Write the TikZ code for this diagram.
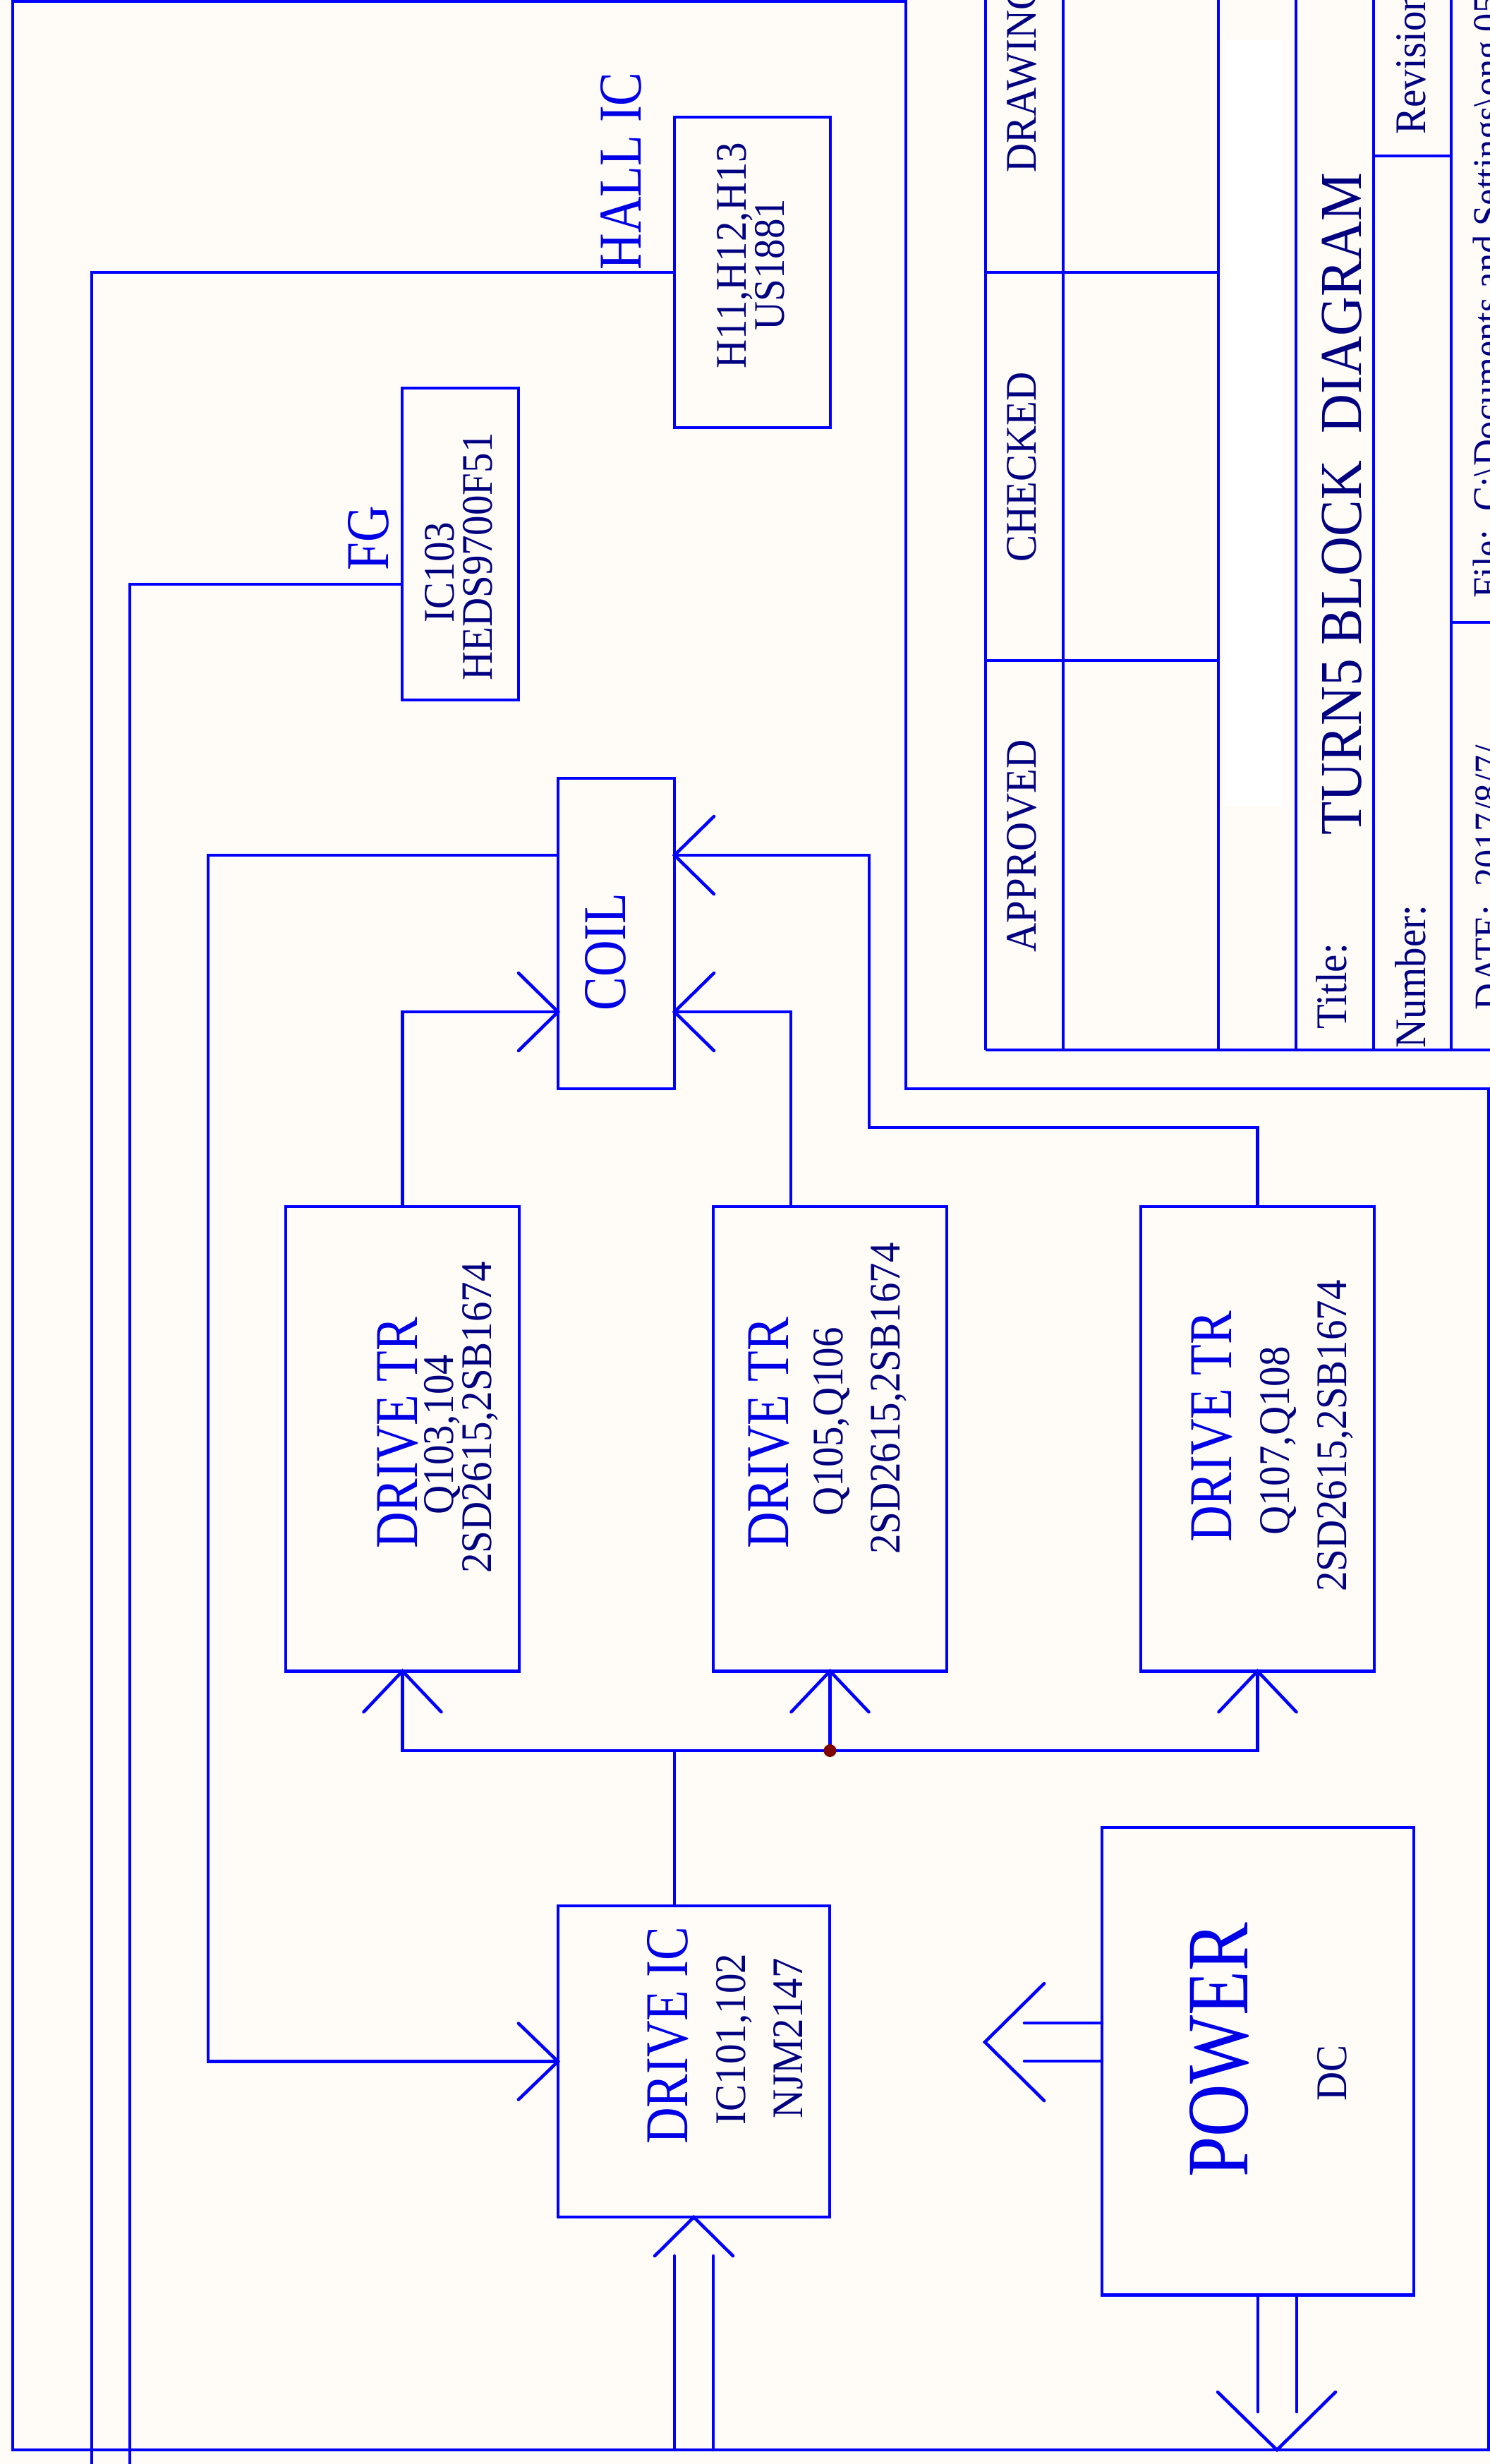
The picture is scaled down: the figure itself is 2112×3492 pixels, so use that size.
\documentclass[tikz,border=0pt]{standalone}
\usepackage{fontspec}
\setmainfont{Liberation Serif}
\newfontfamily\labfont[FakeStretch=0.83]{Liberation Serif}
\newfontfamily\smlfont[FakeStretch=0.92]{Liberation Serif}
\definecolor{lineblue}{RGB}{0,0,255}
\definecolor{labblue}{RGB}{0,0,230}
\definecolor{navytext}{RGB}{0,0,128}
\definecolor{bgcream}{RGB}{255,252,247}
\definecolor{dotred}{RGB}{128,0,0}
\newcommand\labsz{\fontsize{24.5pt}{29pt}\selectfont}
\newcommand\bigsz{\fontsize{35.3pt}{40pt}\selectfont}
\newcommand\smlsz{\fontsize{17.6pt}{21pt}\selectfont}
\newcommand\titsz{\fontsize{23.9pt}{28pt}\selectfont}
\newcommand\tinysz{\fontsize{16.2pt}{19pt}\selectfont}
\begin{document}
\begin{tikzpicture}[x=0.01cm,y=-0.01cm,
  wire/.style={draw=lineblue, line width=1.3pt},
  vtip/.style={draw=lineblue, line width=1.3pt, line cap=round},
  box/.style={draw=lineblue, line width=1.3pt, rectangle, inner sep=0pt, outer sep=0pt},
  lab/.style={rotate=90, inner sep=0pt, text=labblue, font=\labfont\labsz},
  biglab/.style={rotate=90, inner sep=0pt, text=labblue, font=\labfont\bigsz},
  sml/.style={rotate=90, inner sep=0pt, text=navytext, font=\smlfont\smlsz},
  tit/.style={rotate=90, inner sep=0pt, text=navytext, font=\smlfont\titsz},
  tny/.style={rotate=90, inner sep=0pt, text=navytext, font=\smlfont\tinysz},
]
\useasboundingbox (0,0) rectangle (2112,3492);
\fill[bgcream] (0,0) rectangle (2112,3492);
\fill[white] (1735,56) rectangle (1818,1142);

% ---------- frame ----------
\draw[wire] (18,1.5) -- (1284,1.5) -- (1284,1543) -- (2110,1543) -- (2110,3472) -- (18,3472) -- cycle;

% ---------- title block ----------
\foreach \xx in {1397,1507,1727,1837,1947,2057}{\draw[wire] (\xx,0) -- (\xx,1488);}
\draw[wire] (1397,386) -- (1727,386);
\draw[wire] (1397,936) -- (1727,936);
\draw[wire] (1947,221) -- (2057,221);
\draw[wire] (2057,882) -- (2112,882);
\draw[wire] (1397,1488) -- (2112,1488);

\node[sml, anchor=base west] (tdraw) at (1468,245) {DRAWING};
\node[sml, anchor=base west] (tcheck) at (1468,797) {CHECKED};
\node[sml, anchor=base west] (tappr) at (1468,1350) {APPROVED};
\node[sml, anchor=base west] (ttitle) at (1908,1459) {Title:};
\node[tit, anchor=base west] (tturn) at (1929,1184) {TURN5 BLOCK\ \ DIAGRAM};
\node[sml, anchor=base west] (tnum) at (2020,1486) {Number:};
\node[sml, anchor=base west] (trev) at (2020,191) {Revision};
\node[tny, anchor=base west] (tdate) at (2129,1432) {DATE:\ \ 2017/8/7/};
\node[tny, anchor=base west] (tfile) at (2127,848) {File:\ \ C:\textbackslash Documents and Settings\textbackslash ong.05\textbackslash};

% ---------- boxes ----------
\node[box, minimum width=2.21cm, minimum height=4.40cm] (hall) at (1066.5,386) {};
\node[box, minimum width=1.65cm, minimum height=4.42cm] (fg) at (652.5,771) {};
\node[box, minimum width=1.65cm, minimum height=4.40cm] (coil) at (873.5,1323) {};
\node[box, minimum width=3.31cm, minimum height=6.58cm] (tr1) at (570.5,2039) {};
\node[box, minimum width=3.31cm, minimum height=6.58cm] (tr2) at (1176.5,2039) {};
\node[box, minimum width=3.31cm, minimum height=6.58cm] (tr3) at (1782.5,2039) {};
\node[box, minimum width=3.85cm, minimum height=4.41cm] (ic) at (983.5,2921.5) {};
\node[box, minimum width=4.42cm, minimum height=6.62cm] (power) at (1783,2921) {};

% ---------- coordinates ----------
\coordinate (hallend) at (130,3500);
\coordinate (fgpin) at (570,828);
\coordinate (fgend) at (184,3500);
\coordinate (coilA) at (791,1212);
\coordinate (coilB) at (791,1434);
\coordinate (coilC) at (956,1434);
\coordinate (coilD) at (956,1212);
\coordinate (tr2pin) at (1121,1710);
\coordinate (bend3) at (1232,1598);
\coordinate (busL) at (570.5,2481);
\coordinate (busR) at (1782.5,2481);
\coordinate (junc) at (1176.5,2481);
\coordinate (icpin) at (956,2701);
\coordinate (icbus) at (956,2481);
\coordinate (leftbus) at (295,1212);
\coordinate (icinA) at (956,3197);
\coordinate (icinAe) at (956,3472);
\coordinate (icinB) at (1011,3197);
\coordinate (icinBe) at (1011,3472);
\coordinate (pwA) at (1562,2867);
\coordinate (pwAe) at (1452,2867);
\coordinate (pwB) at (1562,2921);
\coordinate (pwBe) at (1452,2921);
\coordinate (pwtipL) at (1396,2894);
\coordinate (pwC) at (1783,3252);
\coordinate (pwCe) at (1783,3418);
\coordinate (pwD) at (1838,3252);
\coordinate (pwDe) at (1838,3418);
\coordinate (pwtipB) at (1810,3472);

% ---------- connectors ----------
\draw[wire] (hall.west) -| (hallend);
\draw[wire] (fgpin) -| (fgend);
\draw[wire] (coilA) -- (leftbus) |- (ic.west);
\draw[vtip] (ic.west) ++(-56,-54) -- (ic.west) -- ++(-56,54);

\draw[wire] (tr1.north) |- (coilB);
\draw[vtip] (coilB) ++(-56,-55) -- (coilB) -- ++(-56,55);
\draw[wire] (tr2pin) |- (coilC);
\draw[vtip] (coilC) ++(56,-55) -- (coilC) -- ++(56,55);
\draw[wire] (tr3.north) |- (bend3) |- (coilD);
\draw[vtip] (coilD) ++(56,-55) -- (coilD) -- ++(56,55);

\draw[wire] (tr1.south) -- (busL) -- (busR) -- (tr3.south);
\draw[wire] (tr2.south) -- (junc);
\draw[wire] (icbus) -- (icpin);
\foreach \t in {tr1,tr2,tr3}{\draw[vtip] (\t.south) ++(-55,58) -- (\t.south) -- ++(55,58);}
\fill[dotred] (junc) circle (9);

\draw[vtip] (icinA) -- (icinAe);
\draw[vtip] (icinB) -- (icinBe);
\draw[vtip] (ic.south) ++(-55.5,55) -- (ic.south) -- ++(55.5,55);

\draw[vtip] (pwA) -- (pwAe);
\draw[vtip] (pwB) -- (pwBe);
\draw[vtip] (pwtipL) ++(84,-83) -- (pwtipL) -- ++(84,83);
\draw[vtip] (pwC) -- (pwCe);
\draw[vtip] (pwD) -- (pwDe);
\draw[vtip] (pwtipB) ++(-84,-82) -- (pwtipB) -- ++(83,-82);

% ---------- labels ----------
\node[lab, anchor=base west] (lhall) at (908,383) {HALL IC};
\node[lab, anchor=base west] (lfg) at (550,809) {FG};
\node[sml, anchor=base] (thall1) at (1057,362) {H11,H12,H13};
\node[sml, anchor=base] (thall2) at (1111,375) {US1881};
\node[sml, anchor=base] (tfg1) at (643,811) {IC103};
\node[sml, anchor=base] (tfg2) at (697,789) {HEDS9700F51};
\node[lab, anchor=base] (tcoil) at (886,1349) {COIL};

\node[lab, anchor=base] (ttr1a) at (591,2031) {DRIVE TR};
\node[sml, anchor=base] (ttr1b) at (642,2033) {Q103,104};
\node[sml, anchor=base] (ttr1c) at (696,2009) {2SD2615,2SB1674};

\node[lab, anchor=base] (ttr2a) at (1117,2031) {DRIVE TR};
\node[sml, anchor=base] (ttr2b) at (1194,2015) {Q105,Q106};
\node[sml, anchor=base] (ttr2c) at (1275,1982) {2SD2615,2SB1674};

\node[lab, anchor=base] (ttr3a) at (1745,2022) {DRIVE TR};
\node[sml, anchor=base] (ttr3b) at (1827,2042) {Q107,Q108};
\node[sml, anchor=base] (ttr3c) at (1908,2035) {2SD2615,2SB1674};

\node[lab, anchor=base] (tica) at (974,2885) {DRIVE IC};
\node[sml, anchor=base] (ticb) at (1056,2890) {IC101,102};
\node[sml, anchor=base] (ticc) at (1137,2889) {NJM2147};

\node[biglab, anchor=base] (tpow) at (1768,2905) {POWER};
\node[sml, anchor=base] (tdc) at (1908,2938) {DC};
\end{tikzpicture}
\end{document}
